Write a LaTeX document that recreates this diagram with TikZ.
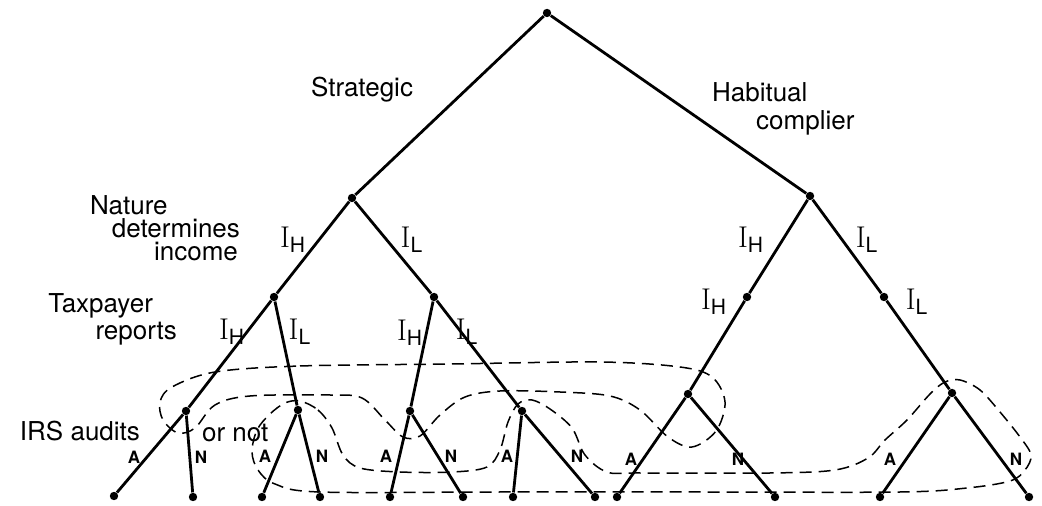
\documentclass[tikz,border=0pt]{standalone}
\usepackage{fontspec}
\setsansfont{TeX Gyre Heros}
\newcommand{\incH}{I\textsubscript{\sffamily H}}
\newcommand{\incL}{I\textsubscript{\sffamily L}}

\begin{document}
\begin{tikzpicture}[x=0.5pt, y=-0.5pt,
    dot/.style={circle, fill, inner sep=0pt, minimum size=4.2pt},
    branch/.style={line width=1.4pt},
    infoset/.style={dash pattern=on 6pt off 3.5pt, line width=0.75pt},
    lbl/.style={font=\sffamily\fontsize{13}{15}\selectfont},
    inc/.style={font=\fontsize{15}{16}\selectfont},
    act/.style={font=\sffamily\bfseries\fontsize{8.5}{10}\selectfont}]
    \useasboundingbox (0,0) rectangle (1042,506);

    % decision nodes
    \node[dot] (root) at (547,13) {};
    \node[dot] (s) at (352,198) {};
    \node[dot] (h) at (810,196) {};
    \node[dot] (sH) at (274,297) {};
    \node[dot] (sL) at (434,297) {};
    \node[dot] (hH) at (747,297) {};
    \node[dot] (hL) at (884,297) {};
    \node[dot] (sHH) at (186,411) {};
    \node[dot] (sHL) at (298,410) {};
    \node[dot] (sLH) at (410,411) {};
    \node[dot] (sLL) at (522,411) {};
    \node[dot] (hHH) at (688,394) {};
    \node[dot] (hLL) at (952,393) {};

    % terminal nodes
    \node[dot] (sHHa) at (114,496) {};
    \node[dot] (sHHn) at (193,497) {};
    \node[dot] (sHLa) at (262,497) {};
    \node[dot] (sHLn) at (320,497) {};
    \node[dot] (sLHa) at (390,497) {};
    \node[dot] (sLHn) at (463,497) {};
    \node[dot] (sLLa) at (513,497) {};
    \node[dot] (sLLn) at (595,497) {};
    \node[dot] (hHHa) at (617,497) {};
    \node[dot] (hHHn) at (775,497) {};
    \node[dot] (hLLa) at (880,497) {};
    \node[dot] (hLLn) at (1029,497) {};

    % branches
    \draw[branch] (root)--(s);
    \draw[branch] (root)--(h);
    \draw[branch] (s)--(sH);
    \draw[branch] (s)--(sL);
    \draw[branch] (h)--(hH);
    \draw[branch] (h)--(hL);
    \draw[branch] (sH)--(sHH);
    \draw[branch] (sH)--(sHL);
    \draw[branch] (sL)--(sLH);
    \draw[branch] (sL)--(sLL);
    \draw[branch] (hH)--(hHH);
    \draw[branch] (hL)--(hLL);
    \foreach \n in {sHH,sHL,sLH,sLL,hHH,hLL}{
        \draw[branch] (\n)--(\n a);
        \draw[branch] (\n)--(\n n);
    }

    % information set: report I_H
    \draw[infoset] plot[smooth cycle, tension=0.55] coordinates {
        (215,372) (300,366) (450,364) (600,362) (680,367)
        (712,377) (725,402) (716,431) (692,447) (668,437)
        (640,410) (610,396) (560,392) (500,391) (465,397)
        (440,415) (420,436) (403,437) (385,420) (362,398)
        (330,395) (250,396) (215,405) (195,428) (178,433)
        (163,420) (160,402) (172,387)};

    % information set: report I_L
    \draw[infoset] plot[smooth cycle, tension=0.55] coordinates {
        (300,401) (318,410) (332,428) (343,455) (360,468)
        (400,472) (453,472) (487,467) (500,450) (508,422)
        (518,404) (532,400) (550,409) (572,428) (585,455)
        (607,472) (640,473) (770,473) (835,470) (868,458)
        (885,440) (907,420) (930,394) (945,382) (960,380)
        (980,390) (1000,412) (1020,437) (1031,455) (1025,470)
        (1010,481) (967,488) (900,492) (700,492) (500,492)
        (320,492) (275,484) (258,470) (252,452) (257,430)
        (270,414) (285,403)};

    % stage labels
    \node[lbl, anchor=west] (strat) at (304,90) {Strategic};
    \node[lbl, anchor=west] (habit) at (705,92) {Habitual};
    \node[lbl, anchor=west] (compl) at (749,123) {complier};
    \node[lbl, anchor=west] (natA) at (83,205) {Nature};
    \node[lbl, anchor=east] (natB) at (247,228) {determines};
    \node[lbl, anchor=east] (natC) at (245,252) {income};
    \node[lbl, anchor=east] (taxA) at (160,306) {Taxpayer};
    \node[lbl, anchor=east] (taxB) at (184,334) {reports};
    \node[lbl, anchor=east] (irsA) at (147,431) {IRS audits};
    \node[lbl, anchor=west] (irsB) at (195,433) {or not};

    % income and report labels
    \node[inc] (l1) at (293,240) {\incH};
    \node[inc] (l2) at (412,240) {\incL};
    \node[inc] (l3) at (751,240) {\incH};
    \node[inc] (l4) at (867,240) {\incL};
    \node[inc] (l5) at (714,302) {\incH};
    \node[inc] (l6) at (917,302) {\incL};
    \node[inc] (l7) at (232,332) {\incH};
    \node[inc] (l8) at (300,332) {\incL};
    \node[inc] (l9) at (410,333) {\incH};
    \node[inc] (l10) at (467,332) {\incL};

    % audit labels
    \node[act] (a1) at (134,457) {A};
    \node[act] (n1) at (201,457) {N};
    \node[act] (a2) at (265,456) {A};
    \node[act] (n2) at (322,456) {N};
    \node[act] (a3) at (386,456) {A};
    \node[act] (n3) at (451,456) {N};
    \node[act] (a4) at (507,456) {A};
    \node[act] (n4) at (577,456) {N};
    \node[act] (a5) at (631,459) {A};
    \node[act] (n5) at (738,459) {N};
    \node[act] (a6) at (890,459) {A};
    \node[act] (n6) at (1016,459) {N};
\end{tikzpicture}
\end{document}
